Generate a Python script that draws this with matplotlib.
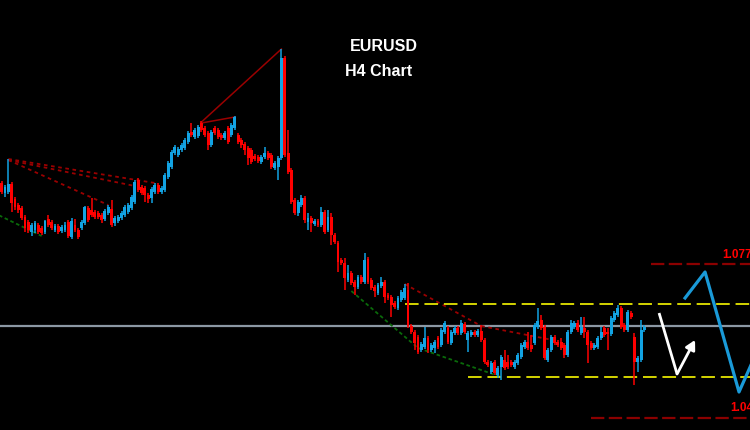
import matplotlib.pyplot as plt
import numpy as np

# EURUSD H4 candles
opens = [1.0934, 1.0914, 1.0916, 1.0932, 1.0902, 1.0890, 1.0884, 1.0866, 1.0856, 1.0836,
         1.0840, 1.0850, 1.0844, 1.0836, 1.0862, 1.0856, 1.0840, 1.0848, 1.0838, 1.0840,
         1.0856, 1.0826, 1.0850, 1.0840, 1.0844, 1.0854, 1.0884, 1.0880, 1.0876, 1.0874,
         1.0870, 1.0862, 1.0874, 1.0882, 1.0854, 1.0858, 1.0864, 1.0870, 1.0876, 1.0884,
         1.0896, 1.0940, 1.0926, 1.0924, 1.0910, 1.0904, 1.0916, 1.0930, 1.0916, 1.0920,
         1.0946, 1.0966, 1.0994, 1.0990, 1.1000, 1.1004, 1.1016, 1.1036, 1.1026, 1.1028,
         1.1054, 1.1044, 1.1034, 1.1010, 1.1044, 1.1040, 1.1030, 1.1024, 1.1044, 1.1030,
         1.1044, 1.1030, 1.1020, 1.1012, 1.1004, 1.1000, 1.0988, 1.0986, 1.0976, 1.0986,
         1.0994, 1.0990, 1.0964, 1.0966, 1.0984, 1.1184, 1.0994, 1.0960, 1.0900, 1.0874,
         1.0890, 1.0904, 1.0856, 1.0864, 1.0852, 1.0858, 1.0850, 1.0876, 1.0840, 1.0866,
         1.0830, 1.0814, 1.0780, 1.0774, 1.0740, 1.0754, 1.0736, 1.0726, 1.0746, 1.0736,
         1.0782, 1.0740, 1.0726, 1.0714, 1.0728, 1.0736, 1.0710, 1.0706, 1.0694, 1.0684,
         1.0700, 1.0704, 1.0720, 1.0648, 1.0636, 1.0626, 1.0600, 1.0606, 1.0624, 1.0600,
         1.0604, 1.0624, 1.0610, 1.0636, 1.0644, 1.0614, 1.0634, 1.0644, 1.0634, 1.0652,
         1.0620, 1.0630, 1.0636, 1.0630, 1.0638, 1.0620, 1.0576, 1.0556, 1.0576, 1.0550,
         1.0566, 1.0580, 1.0576, 1.0576, 1.0566, 1.0574, 1.0586, 1.0606, 1.0616, 1.0610,
         1.0614, 1.0646, 1.0660, 1.0646, 1.0580, 1.0600, 1.0626, 1.0616, 1.0616, 1.0610,
         1.0590, 1.0636, 1.0646, 1.0654, 1.0634, 1.0644, 1.0636, 1.0614, 1.0604, 1.0606,
         1.0624, 1.0644, 1.0636, 1.0632, 1.0660, 1.0670, 1.0684, 1.0650, 1.0640, 1.0674,
         1.0626, 1.0576, 1.0580, 1.0640]
highs = [1.0938, 1.0930, 1.0982, 1.0936, 1.0906, 1.0894, 1.0888, 1.0870, 1.0860, 1.0854,
         1.0858, 1.0854, 1.0848, 1.0860, 1.0870, 1.0860, 1.0852, 1.0852, 1.0850, 1.0856,
         1.0860, 1.0864, 1.0862, 1.0844, 1.0860, 1.0888, 1.0888, 1.0904, 1.0880, 1.0878,
         1.0874, 1.0882, 1.0890, 1.0900, 1.0868, 1.0870, 1.0878, 1.0890, 1.0894, 1.0910,
         1.0940, 1.0944, 1.0930, 1.0928, 1.0914, 1.0926, 1.0934, 1.0934, 1.0928, 1.0954,
         1.0978, 1.1000, 1.1010, 1.1006, 1.1014, 1.1024, 1.1038, 1.1054, 1.1044, 1.1050,
         1.1058, 1.1048, 1.1038, 1.1040, 1.1048, 1.1044, 1.1034, 1.1038, 1.1048, 1.1054,
         1.1068, 1.1034, 1.1024, 1.1016, 1.1008, 1.1004, 1.0992, 1.0990, 1.0990, 1.1006,
         1.0998, 1.0994, 1.0978, 1.0988, 1.1202, 1.1188, 1.1040, 1.0964, 1.0904, 1.0900,
         1.0910, 1.0908, 1.0874, 1.0868, 1.0862, 1.0862, 1.0886, 1.0880, 1.0880, 1.0874,
         1.0834, 1.0818, 1.0784, 1.0784, 1.0770, 1.0758, 1.0740, 1.0750, 1.0750, 1.0794,
         1.0786, 1.0744, 1.0730, 1.0734, 1.0746, 1.0740, 1.0714, 1.0710, 1.0698, 1.0708,
         1.0720, 1.0732, 1.0734, 1.0652, 1.0640, 1.0630, 1.0616, 1.0646, 1.0628, 1.0614,
         1.0620, 1.0628, 1.0644, 1.0658, 1.0648, 1.0640, 1.0648, 1.0648, 1.0660, 1.0656,
         1.0638, 1.0640, 1.0640, 1.0642, 1.0650, 1.0624, 1.0580, 1.0578, 1.0580, 1.0568,
         1.0590, 1.0600, 1.0590, 1.0580, 1.0580, 1.0594, 1.0614, 1.0620, 1.0636, 1.0630,
         1.0654, 1.0684, 1.0670, 1.0650, 1.0604, 1.0630, 1.0630, 1.0620, 1.0624, 1.0614,
         1.0640, 1.0660, 1.0658, 1.0660, 1.0666, 1.0666, 1.0640, 1.0618, 1.0614, 1.0628,
         1.0646, 1.0648, 1.0644, 1.0668, 1.0678, 1.0690, 1.0688, 1.0654, 1.0680, 1.0678,
         1.0634, 1.0588, 1.0660, 1.0650]
lows = [1.0912, 1.0906, 1.0912, 1.0876, 1.0880, 1.0874, 1.0860, 1.0836, 1.0834, 1.0828,
        1.0834, 1.0832, 1.0830, 1.0832, 1.0846, 1.0840, 1.0836, 1.0832, 1.0834, 1.0836,
        1.0824, 1.0822, 1.0836, 1.0822, 1.0840, 1.0850, 1.0856, 1.0866, 1.0862, 1.0862,
        1.0854, 1.0858, 1.0870, 1.0846, 1.0848, 1.0854, 1.0860, 1.0866, 1.0872, 1.0880,
        1.0892, 1.0916, 1.0910, 1.0896, 1.0894, 1.0894, 1.0912, 1.0912, 1.0912, 1.0916,
        1.0942, 1.0962, 1.0990, 1.0986, 1.0996, 1.1000, 1.1012, 1.1026, 1.1022, 1.1024,
        1.1036, 1.1026, 1.1000, 1.1006, 1.1030, 1.1022, 1.1020, 1.1020, 1.1012, 1.1026,
        1.1040, 1.1012, 1.1004, 1.0990, 1.0970, 1.0972, 1.0978, 1.0974, 1.0972, 1.0982,
        1.0980, 1.0962, 1.0960, 1.0940, 1.0980, 1.0986, 1.0952, 1.0892, 1.0870, 1.0868,
        1.0886, 1.0854, 1.0840, 1.0836, 1.0848, 1.0846, 1.0846, 1.0832, 1.0836, 1.0810,
        1.0812, 1.0756, 1.0770, 1.0720, 1.0736, 1.0730, 1.0710, 1.0722, 1.0732, 1.0732,
        1.0732, 1.0720, 1.0706, 1.0710, 1.0724, 1.0694, 1.0700, 1.0666, 1.0682, 1.0680,
        1.0696, 1.0700, 1.0644, 1.0632, 1.0600, 1.0592, 1.0596, 1.0602, 1.0594, 1.0596,
        1.0594, 1.0602, 1.0606, 1.0632, 1.0612, 1.0610, 1.0630, 1.0630, 1.0630, 1.0632,
        1.0596, 1.0626, 1.0626, 1.0626, 1.0616, 1.0572, 1.0566, 1.0552, 1.0550, 1.0544,
        1.0540, 1.0560, 1.0562, 1.0566, 1.0562, 1.0570, 1.0582, 1.0602, 1.0600, 1.0596,
        1.0610, 1.0642, 1.0640, 1.0580, 1.0576, 1.0596, 1.0610, 1.0606, 1.0600, 1.0584,
        1.0586, 1.0632, 1.0642, 1.0636, 1.0630, 1.0624, 1.0574, 1.0600, 1.0600, 1.0602,
        1.0620, 1.0626, 1.0600, 1.0628, 1.0656, 1.0666, 1.0642, 1.0636, 1.0636, 1.0662,
        1.0530, 1.0556, 1.0576, 1.0636]
closes = [1.0916, 1.0926, 1.0932, 1.0894, 1.0886, 1.0880, 1.0864, 1.0844, 1.0840, 1.0850,
          1.0854, 1.0836, 1.0834, 1.0858, 1.0850, 1.0844, 1.0848, 1.0836, 1.0846, 1.0850,
          1.0828, 1.0858, 1.0840, 1.0826, 1.0856, 1.0886, 1.0860, 1.0870, 1.0866, 1.0866,
          1.0860, 1.0878, 1.0886, 1.0850, 1.0864, 1.0866, 1.0874, 1.0886, 1.0890, 1.0906,
          1.0936, 1.0920, 1.0914, 1.0910, 1.0902, 1.0922, 1.0930, 1.0916, 1.0924, 1.0950,
          1.0974, 1.0996, 1.1006, 1.1002, 1.1010, 1.1020, 1.1034, 1.1030, 1.1040, 1.1046,
          1.1040, 1.1030, 1.1010, 1.1036, 1.1034, 1.1026, 1.1024, 1.1034, 1.1016, 1.1050,
          1.1066, 1.1016, 1.1010, 1.1000, 1.0984, 1.0976, 1.0982, 1.0978, 1.0986, 1.0994,
          1.0984, 1.0966, 1.0974, 1.0984, 1.1184, 1.0990, 1.0956, 1.0896, 1.0874, 1.0896,
          1.0904, 1.0860, 1.0864, 1.0854, 1.0858, 1.0850, 1.0876, 1.0836, 1.0866, 1.0830,
          1.0816, 1.0776, 1.0774, 1.0744, 1.0754, 1.0734, 1.0726, 1.0746, 1.0736, 1.0780,
          1.0736, 1.0724, 1.0718, 1.0730, 1.0736, 1.0706, 1.0704, 1.0690, 1.0686, 1.0704,
          1.0716, 1.0724, 1.0648, 1.0636, 1.0614, 1.0596, 1.0612, 1.0624, 1.0600, 1.0610,
          1.0616, 1.0606, 1.0640, 1.0654, 1.0616, 1.0636, 1.0644, 1.0634, 1.0654, 1.0636,
          1.0634, 1.0636, 1.0630, 1.0638, 1.0620, 1.0576, 1.0570, 1.0574, 1.0554, 1.0564,
          1.0586, 1.0564, 1.0566, 1.0570, 1.0576, 1.0590, 1.0610, 1.0616, 1.0604, 1.0602,
          1.0650, 1.0658, 1.0644, 1.0584, 1.0600, 1.0626, 1.0614, 1.0610, 1.0604, 1.0590,
          1.0636, 1.0654, 1.0654, 1.0640, 1.0646, 1.0636, 1.0610, 1.0604, 1.0610, 1.0624,
          1.0636, 1.0630, 1.0632, 1.0664, 1.0674, 1.0684, 1.0646, 1.0640, 1.0676, 1.0666,
          1.0576, 1.0584, 1.0640, 1.0646]

# drawn objects: (bar index, price) anchor points
trend_red = [[(2, 1.0982), (46, 1.0934)],
             [(2, 1.0980), (40, 1.0928)],
             [(2, 1.0980), (32, 1.0890)],
             [(121, 1.0732), (144, 1.0648)],
             [(144, 1.0648), (167, 1.0618)]]
trend_top = [[(60, 1.1056), (84, 1.1202)],
             [(60, 1.1054), (70, 1.1066)]]
trend_green = [[(-1, 1.0870), (12, 1.0828)],
               [(105, 1.0718), (125, 1.0604), (150, 1.0546)]]
range_top, range_bottom = 1.0692, 1.0546
range_top_start, range_bottom_start = 121, 140
current_price = 1.0648
target_up, target_down = 1.0772, 1.0464
target_up_start, target_down_start = 195, 177
white_path = [(197.4, 1.0674), (202.8, 1.0552), (208.2, 1.0620)]
blue_path = [(205.2, 1.0704), (211.2, 1.0756), (221.4, 1.0516), (227, 1.0600)]

BLUE = '#12a3e3'
RED = '#ff0000'
DARKRED = '#9a0000'


def main():
    o = np.array(opens)
    h = np.array(highs)
    l = np.array(lows)
    c = np.array(closes)
    x = np.arange(len(o))
    up = c >= o
    colors = np.where(up, BLUE, RED)

    fig = plt.figure(figsize=(7.5, 4.3), dpi=100, facecolor='black')
    ax = fig.add_axes([0, 0, 1, 1])
    ax.set_facecolor('black')
    ax.set_axis_off()
    ax.set_xlim(-0.5, 224.7)
    ax.set_ylim(1.0440, 1.1300)

    # current price line
    ax.axhline(current_price, color='#8c98a4', lw=1.6, zorder=1)

    # candles
    ax.vlines(x, l, h, colors=colors, lw=1.1, zorder=3)
    body = np.maximum(np.abs(c - o), 0.00025)
    ax.bar(x, body, bottom=np.minimum(o, c), width=0.86, color=colors,
           linewidth=0, zorder=4)

    # trend lines
    for pts in trend_red:
        xs, ys = zip(*pts)
        ax.plot(xs, ys, color=DARKRED, lw=1.3, ls=(0, (2, 2)), zorder=2)
    for pts in trend_top:
        xs, ys = zip(*pts)
        ax.plot(xs, ys, color=DARKRED, lw=1.1, zorder=2)
    for pts in trend_green:
        xs, ys = zip(*pts)
        ax.plot(xs, ys, color='#0a6a0a', lw=1.3, ls=(0, (2, 1.5)), zorder=2)

    # range and targets
    ax.hlines(range_top, range_top_start, 230, color='#d4d400', lw=1.4,
              ls=(0, (7, 3)), zorder=2)
    ax.hlines(range_bottom, range_bottom_start, 230, color='#d4d400', lw=1.4,
              ls=(0, (7, 3)), zorder=2)
    ax.hlines(target_up, target_up_start, 230, color='#8b0000', lw=1.6,
              ls=(0, (6, 2)), zorder=2)
    ax.hlines(target_down, target_down_start, 230, color='#8b0000', lw=1.6,
              ls=(0, (6, 2)), zorder=2)
    # labels run off the right edge, as in the original screenshot
    ax.text(216.3, 1.0790, '%.4f' % target_up, color=RED, fontsize=8.5,
            fontweight='bold', ha='left', va='center', family='Liberation Sans')
    ax.text(218.7, 1.0484, '%.4f' % target_down, color=RED, fontsize=8.5,
            fontweight='bold', ha='left', va='center', family='Liberation Sans')

    # projected moves
    xs, ys = zip(*white_path)
    ax.plot(xs[:2], ys[:2], color='white', lw=2.0, solid_capstyle='butt',
            zorder=5)
    ax.annotate('', xy=white_path[2], xytext=white_path[1],
                arrowprops=dict(arrowstyle='-|>,head_length=0.55,head_width=0.3',
                                color='white', lw=2.0, shrinkA=0, shrinkB=0),
                zorder=5)
    xs, ys = zip(*blue_path)
    ax.plot(xs, ys, color='#1a9ad8', lw=2.3, zorder=5)

    fig.text(0.4667, 0.891, 'EURUSD', color='white', fontsize=11.5,
             fontweight='bold', ha='left', va='center', family='Liberation Sans')
    fig.text(0.460, 0.833, 'H4 Chart', color='white', fontsize=11.5,
             fontweight='bold', ha='left', va='center', family='Liberation Sans')

    fig.savefig('out.png', dpi=100, facecolor='black')


if __name__ == '__main__':
    main()
